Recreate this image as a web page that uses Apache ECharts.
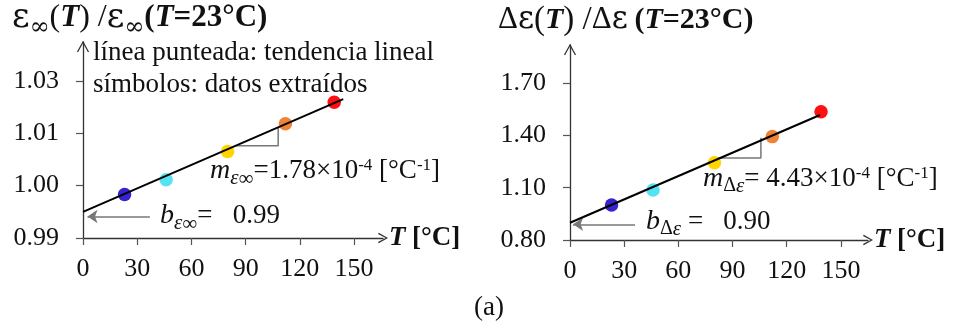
<!DOCTYPE html>
<html>
<head>
<meta charset="utf-8">
<script src="https://cdn.jsdelivr.net/npm/echarts@6/dist/echarts.min.js"></script>
<style>
html,body{margin:0;padding:0;background:#fff;}
#c{width:955px;height:336px;}
</style>
</head>
<body>
<div id="c"></div>
<script>
// ---- data ----
const temps = [23, 46, 80, 112, 139];
const pointColors = ['#3622cf', '#55e3f3', '#ffd400', '#ee8236', '#ff1010'];
const ratioInf = [0.9983, 1.0011, 1.0065, 1.0118, 1.0159];
const ratioDelta = [1.001, 1.087, 1.243, 1.393, 1.536];
const trendInfT = [0, 144];
const trendInfV = [0.995, 1.0165];
const trendDeltaT = [0, 138.4];
const trendDeltaV = [0.899, 1.517];
const slopeInfT = [84, 108, 108];
const slopeInfV = [1.0076, 1.0076, 1.0111];
const slopeDeltaT = [82, 105.7, 105.7];
const slopeDeltaV = [1.27, 1.27, 1.387];
const bArrowInfT = [37, 2.5];
const bArrowInfV = [0.9941, 0.9941];
const bArrowDeltaT = [36, 1.7];
const bArrowDeltaV = [0.890, 0.890];
const xTicks = [0, 30, 60, 90, 120, 150];
const leftYTicks = [0.99, 1.00, 1.01, 1.02];
const leftYTickLabels = ['0.99', '1.00', '1.01', '1.03'];
const rightYTicks = [0.80, 1.10, 1.40, 1.70];
const rightYTickLabels = ['0.80', '1.10', '1.40', '1.70'];

const FONT = '"Liberation Serif", "Times New Roman", serif';
const GFONT = '"DejaVu Serif", serif';
const chevron = 'path://M0,9 L5,0 L10,9 L8.9,9.7 L5,2.3 L1.1,9.7 Z';
const zip = (a, b) => a.map((v, i) => [v, b[i]]);
const AX = '#333';

function xAxisDef(gi, max) {
  return {
    type: 'value', gridIndex: gi, min: 0, max: max,
    axisLine: {show: true, onZero: false, lineStyle: {color: AX, width: 1.3},
      symbol: ['none', chevron], symbolSize: [14, 10], symbolOffset: [0, 0]},
    axisTick: {show: true, customValues: xTicks, length: 7, lineStyle: {color: '#555', width: 1.2}},
    axisLabel: {customValues: xTicks, margin: 18, fontFamily: FONT, fontSize: 26, color: '#111'},
    splitLine: {show: false},
    name: '{bi|T} {b|[°C]}', nameLocation: 'end', nameGap: 6,
    nameTextStyle: {fontFamily: FONT, fontSize: 26, color: '#111', align: 'left', verticalAlign: 'middle',
      rich: {bi: {fontFamily: FONT, fontSize: 27, fontWeight: 'bold', fontStyle: 'italic', color: '#111'},
             b: {fontFamily: FONT, fontSize: 27, fontWeight: 'bold', color: '#111'}}}
  };
}
function yAxisDef(gi, min, max, ticks, labels) {
  return {
    type: 'value', gridIndex: gi, min: min, max: max,
    axisLine: {show: true, onZero: false, lineStyle: {color: AX, width: 1.3}, symbol: 'none'},
    axisTick: {show: true, customValues: ticks, length: 7, lineStyle: {color: '#555', width: 1.2}},
    axisLabel: {customValues: ticks, margin: 24, fontFamily: FONT, fontSize: 26, color: '#111',
      formatter: (v) => {
        let best = 0;
        ticks.forEach((t, i) => { if (Math.abs(t - v) < Math.abs(ticks[best] - v)) best = i; });
        return labels[best];
      }},
    splitLine: {show: false}
  };
}

function pointSeries(gi, vals) {
  return {
    type: 'scatter', xAxisIndex: gi, yAxisIndex: gi, symbolSize: 13.5, z: 2,
    data: temps.map((t, i) => ({value: [t, vals[i]], itemStyle: {color: pointColors[i], opacity: 1}}))
  };
}
function lineSeries(gi, xs, ys, color, width, z) {
  return {type: 'line', xAxisIndex: gi, yAxisIndex: gi, data: zip(xs, ys), symbol: 'none', z: z,
    lineStyle: {color: color, width: width}};
}
function arrowSeries(gi, xs, ys) {
  return {type: 'lines', coordinateSystem: 'cartesian2d', xAxisIndex: gi, yAxisIndex: gi, z: 3,
    symbol: ['none', 'arrow'], symbolSize: [8, 10],
    lineStyle: {color: '#777', width: 1.5, opacity: 1},
    data: [{coords: zip(xs, ys)}]};
}

const C = '#111';
const richBase = {
  n: {fontFamily: FONT, fontSize: 27, color: C},
  // title pieces
  tp: {fontFamily: FONT, fontSize: 32, color: C},
  tpR: {fontFamily: FONT, fontSize: 33, color: C},
  teL: {fontFamily: GFONT, fontSize: 34, color: C},
  te: {fontFamily: GFONT, fontSize: 31, color: C},
  td: {fontFamily: FONT, fontSize: 31, color: C},
  ti: {fontFamily: GFONT, fontSize: 24, color: C, verticalAlign: 'bottom', padding: [0, 0, -5, 0]},
  biL: {fontFamily: FONT, fontSize: 31, fontWeight: 'bold', fontStyle: 'italic', color: C},
  bL: {fontFamily: FONT, fontSize: 31, fontWeight: 'bold', color: C},
  bi: {fontFamily: FONT, fontSize: 30, fontWeight: 'bold', fontStyle: 'italic', color: C},
  b: {fontFamily: FONT, fontSize: 30, fontWeight: 'bold', color: C},
  // annotation pieces
  mi: {fontFamily: FONT, fontSize: 28, fontStyle: 'italic', color: C},
  sub: {fontFamily: FONT, fontSize: 21, fontStyle: 'italic', color: C, padding: [14, 0, 0, 0]},
  subi: {fontFamily: FONT, fontSize: 21, color: C, padding: [17, 0, 0, 0]},
  subu: {fontFamily: FONT, fontSize: 20, color: C, padding: [14, 0, 0, 0]},
  sup: {fontFamily: FONT, fontSize: 17, color: C, padding: [0, 0, 11, 0]}
};
function txt(x, y, text, extra) {
  return {type: 'text', x: x, y: y, z: 10,
    style: Object.assign({text: text, rich: richBase, fill: C, fontFamily: FONT, fontSize: 27, verticalAlign: 'middle', align: 'left'}, extra || {})};
}

const yMax = [1.0274, 1.9185];
const chart = echarts.init(document.getElementById('c'), null, {renderer: 'canvas'});
chart.setOption({
  animation: false,
  backgroundColor: '#fff',
  grid: [
    {left: 83, top: 42, width: 300, height: 196, containLabel: false},
    {left: 570, top: 45, width: 298, height: 195, containLabel: false}
  ],
  xAxis: [xAxisDef(0, 166), xAxisDef(1, 165)],
  yAxis: [
    yAxisDef(0, 0.99, yMax[0], leftYTicks, leftYTickLabels),
    yAxisDef(1, 0.80, yMax[1], rightYTicks, rightYTickLabels)
  ],
  series: [
    pointSeries(0, ratioInf),
    lineSeries(0, trendInfT, trendInfV, '#000', 2, 4),
    lineSeries(0, slopeInfT, slopeInfV, '#777', 1.5, 3),
    arrowSeries(0, bArrowInfT, bArrowInfV),
    pointSeries(1, ratioDelta),
    lineSeries(1, trendDeltaT, trendDeltaV, '#000', 2, 4),
    lineSeries(1, slopeDeltaT, slopeDeltaV, '#777', 1.5, 3),
    arrowSeries(1, bArrowDeltaT, bArrowDeltaV)
  ]
});

// open arrowheads at the top of each y axis, placed from the axis scale
const yArrows = [0, 1].map(gi => {
  const p = chart.convertToPixel({gridIndex: gi}, [0, yMax[gi]]);
  return {type: 'polyline', z: 10, silent: true,
    shape: {points: [[p[0] - 5.5, p[1] + 10], [p[0], p[1]], [p[0] + 5.5, p[1] + 10]]},
    style: {stroke: AX, lineWidth: 1.3, fill: null}};
});

chart.setOption({
  graphic: [
    txt(12, 18, '{teL|ε}{ti|∞}{tp|(}{biL|T}{tp|) /}{teL|ε}{ti|∞}{bL|(}{biL|T}{bL|=23°C)}'),
    txt(498, 20, '{td|Δ}{te|ε}{tpR|(}{bi|T}{tpR|) /}{td|Δ}{te|ε} {b|(}{bi|T}{b|=23°C)}'),
    txt(93, 53, '{n|línea punteada: tendencia lineal}'),
    txt(93, 85, '{n|símbolos: datos extraídos}'),
    txt(210, 171, '{mi|m}{sub|ε}{subi|∞}{n|=1.78×10}{sup|-4}{n| [°C}{sup|-1}{n|]}'),
    txt(160, 216, '{mi|b}{sub|ε}{subi|∞}{n|=   0.99}'),
    txt(703, 179, '{mi|m}{subu|Δ}{sub|ε}{n|= 4.43×10}{sup|-4}{n| [°C}{sup|-1}{n|]}'),
    txt(646, 222, '{mi|b}{subu|Δ}{sub|ε}{n| =   0.90}'),
    txt(489, 308, '{n|(a)}', {align: 'center'})
  ].concat(yArrows)
});
</script>
</body>
</html>
